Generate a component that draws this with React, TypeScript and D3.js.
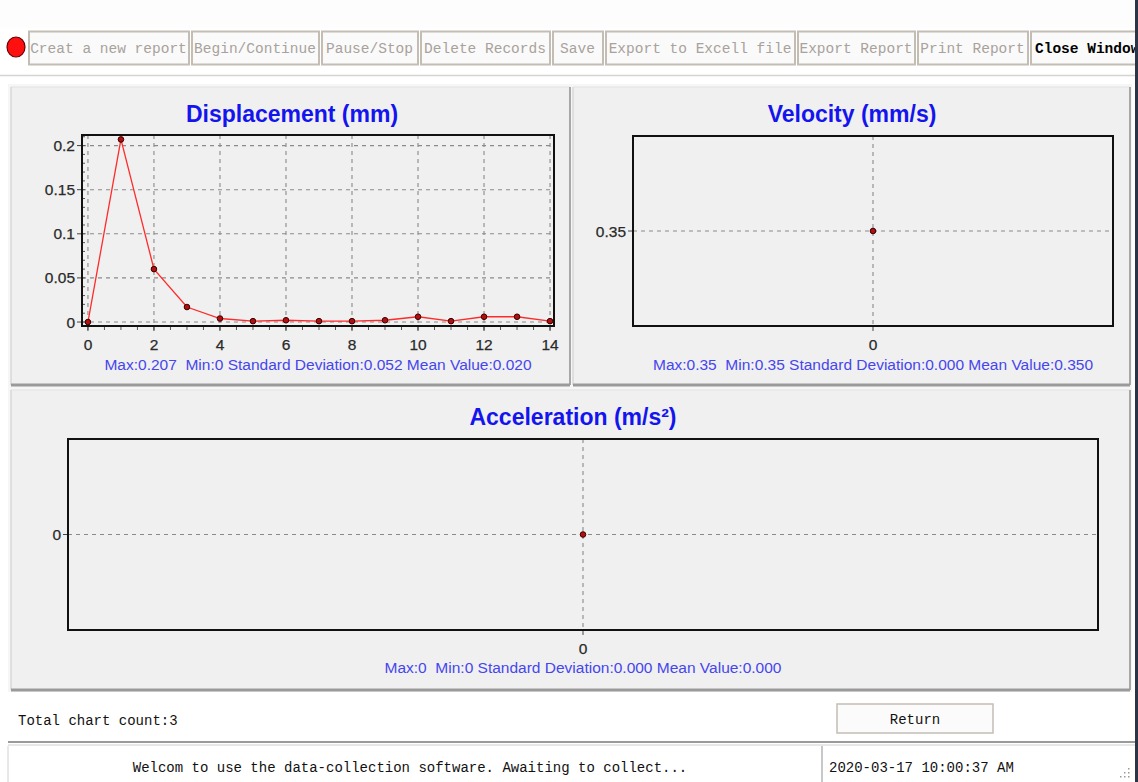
import React from "react";
import * as d3 from "d3";

// ---- data ----
const dispIndex = [0, 1, 2, 3, 4, 5, 6, 7, 8, 9, 10, 11, 12, 13, 14];
const dispValues = [0, 0.207, 0.06, 0.017, 0.004, 0.001, 0.002, 0.001, 0.001, 0.002, 0.006, 0.001, 0.006, 0.006, 0.001];
const dispXTicks = [0, 2, 4, 6, 8, 10, 12, 14];
const dispYTicks = [0, 0.05, 0.1, 0.15, 0.2];
const velIndex = [0];
const velValues = [0.35];
const accIndex = [0];
const accValues = [0];

const dispStats = "Max:0.207  Min:0 Standard Deviation:0.052 Mean Value:0.020";
const velStats = "Max:0.35  Min:0.35 Standard Deviation:0.000 Mean Value:0.350";
const accStats = "Max:0  Min:0 Standard Deviation:0.000 Mean Value:0.000";

const toolbarLabels = [
  "Creat a new report",
  "Begin/Continue",
  "Pause/Stop",
  "Delete Records",
  "Save",
  "Export to Excell file",
  "Export Report",
  "Print Report",
  "Close Window",
];

// ---- layout (chrome) ----
const buttonEdges = [28, 191, 321, 420, 552, 605, 797, 917, 1030, 1150];

const UI_FONT = "'Liberation Mono', 'DejaVu Sans Mono', monospace";
const CH_FONT = "'Liberation Sans', Arial, sans-serif";
const BLUE_TITLE = "#1414ee";
const BLUE_STATS = "#4646ee";
const GRID = "#8a8a8a";

type ChartProps = {
  title: string;
  titleX: number;
  titleY: number;
  frame: { x0: number; x1: number; y0: number; y1: number };
  xDomain: [number, number];
  yDomain: [number, number];
  xTicks: number[];
  yTicks: number[];
  yFmt: (v: number) => string;
  xs: number[];
  ys: number[];
  stats: string;
  statsY: number;
  minorX?: number[];
  minorY?: number[];
  drawLine?: boolean;
};

function Chart(p: ChartProps) {
  const { frame } = p;
  const x = d3.scaleLinear().domain(p.xDomain).range([frame.x0, frame.x1]);
  const y = d3.scaleLinear().domain(p.yDomain).range([frame.y1, frame.y0]);
  const pts: [number, number][] = p.xs.map((v, i) => [x(v), y(p.ys[i])]);
  const line = d3.line()(pts) || "";
  const cx = (frame.x0 + frame.x1) / 2;
  return (
    <g>
      <text x={p.titleX} y={p.titleY} textAnchor="middle" fontFamily={CH_FONT} fontWeight="bold" fontSize={23} fill={BLUE_TITLE}>
        {p.title}
      </text>
      {/* grid */}
      {p.xTicks.map((t) => (
        <line key={"gx" + t} x1={x(t)} x2={x(t)} y1={frame.y0} y2={frame.y1} stroke={GRID} strokeWidth={1.1} strokeDasharray="4,4" />
      ))}
      {p.yTicks.map((t) => (
        <line key={"gy" + t} x1={frame.x0} x2={frame.x1} y1={y(t)} y2={y(t)} stroke={GRID} strokeWidth={1.1} strokeDasharray="4,4" />
      ))}
      {/* minor ticks */}
      {(p.minorX || []).map((t) => (
        <line key={"mx" + t} x1={x(t)} x2={x(t)} y1={frame.y1} y2={frame.y1 + 4} stroke="#555" strokeWidth={1} />
      ))}
      {(p.minorY || []).map((t) => (
        <line key={"my" + t} x1={frame.x0} x2={frame.x0 + 3} y1={y(t)} y2={y(t)} stroke="#555" strokeWidth={1} />
      ))}
      {/* major ticks */}
      {p.xTicks.map((t) => (
        <line key={"tx" + t} x1={x(t)} x2={x(t)} y1={frame.y1} y2={frame.y1 + 5} stroke="#444" strokeWidth={1} />
      ))}
      {p.yTicks.map((t) => (
        <line key={"ty" + t} x1={frame.x0 - 5} x2={frame.x0} y1={y(t)} y2={y(t)} stroke="#444" strokeWidth={1} />
      ))}
      {/* frame */}
      <rect x={frame.x0} y={frame.y0} width={frame.x1 - frame.x0} height={frame.y1 - frame.y0} fill="none" stroke="#111" strokeWidth={2} />
      {/* tick labels */}
      {p.xTicks.map((t) => (
        <text key={"lx" + t} x={x(t)} y={frame.y1 + 24} textAnchor="middle" fontFamily={CH_FONT} fontSize={15.5} fill="#2a2a2a" stroke="#2a2a2a" strokeWidth={0.25}>
          {String(t)}
        </text>
      ))}
      {p.yTicks.map((t) => (
        <text key={"ly" + t} x={frame.x0 - 7} y={y(t) + 5.5} textAnchor="end" fontFamily={CH_FONT} fontSize={15.5} fill="#2a2a2a" stroke="#2a2a2a" strokeWidth={0.25}>
          {p.yFmt(t)}
        </text>
      ))}
      {/* series */}
      {p.drawLine && <path d={line} fill="none" stroke="#ff2a2a" strokeWidth={1.3} />}
      {pts.map((pt, i) => (
        <circle key={"pt" + i} cx={pt[0]} cy={pt[1]} r={2.8} fill="#b01010" stroke="#3a0000" strokeWidth={1} />
      ))}
      <text x={cx} y={p.statsY} textAnchor="middle" fontFamily={CH_FONT} fontSize={15.5} fill={BLUE_STATS} style={{ whiteSpace: "pre" }}>
        {p.stats}
      </text>
    </g>
  );
}

function Panel({ x0, y0, x1, y1 }: { x0: number; y0: number; x1: number; y1: number }) {
  return (
    <g>
      <rect x={x0} y={y0} width={x1 - x0} height={y1 - y0} fill="#f0f0f0" />
      <line x1={x0} x2={x1} y1={y0} y2={y0} stroke="#e2e2e2" strokeWidth={1} />
      <line x1={x0} x2={x0} y1={y0} y2={y1} stroke="#d8d8d8" strokeWidth={1.5} />
      <line x1={x1} x2={x1} y1={y0} y2={y1} stroke="#a8a8a8" strokeWidth={2} />
      <line x1={x0} x2={x1} y1={y1} y2={y1} stroke="#9a9a9a" strokeWidth={3} />
    </g>
  );
}

export default function App() {
  const minorX = dispIndex.flatMap((v) => [v, v + 0.5]).filter((v) => v <= 14);
  const minorY = d3.range(0, 0.2101, 0.01);
  return (
    <svg width={1138} height={782} style={{ position: "absolute", left: 0, top: 0, background: "#fff" }}>
      <rect x={0} y={0} width={1138} height={782} fill="#ffffff" />
      <rect x={0} y={0} width={1138} height={28} fill="#fdfdfd" />
      {/* toolbar */}
      <ellipse cx={16} cy={47} rx={9} ry={10} fill="#ff1010" stroke="#6a0000" strokeWidth={1.2} />
      {toolbarLabels.map((lab, i) => {
        const a = buttonEdges[i];
        const b = buttonEdges[i + 1] - 2;
        const last = i === toolbarLabels.length - 1;
        return (
          <g key={lab}>
            <rect x={a + 1} y={31.5} width={b - a - 1} height={33} fill="#fafafa" stroke="#c4bdb4" strokeWidth={2} />
            <text
              x={last ? a + 5 : (a + b) / 2}
              y={53}
              textAnchor={last ? "start" : "middle"}
              fontFamily={UI_FONT}
              fontSize={14.5}
              fontWeight={last ? "bold" : "normal"}
              fill={last ? "#000" : "#a8a29c"}
            >
              {lab}
            </text>
          </g>
        );
      })}
      <line x1={0} x2={1135} y1={75.5} y2={75.5} stroke="#d4d4d4" strokeWidth={1.5} />

      {/* panels */}
      <rect x={8} y={84} width={1124} height={608} fill="#f6f6f6" />
      <Panel x0={11} y0={87} x1={570} y1={385} />
      <Panel x0={573} y0={87} x1={1130} y1={385} />
      <Panel x0={11} y0={390} x1={1130} y1={690} />

      <Chart
        title="Displacement (mm)"
        titleX={292}
        titleY={122}
        frame={{ x0: 82, x1: 554, y0: 135, y1: 326 }}
        xDomain={[-0.18, 14.12]}
        yDomain={[-0.0045, 0.212]}
        xTicks={dispXTicks}
        yTicks={dispYTicks}
        yFmt={(v) => d3.format("~g")(v)}
        xs={dispIndex}
        ys={dispValues}
        stats={dispStats}
        statsY={370}
        minorX={minorX}
        minorY={minorY}
        drawLine
      />
      <Chart
        title="Velocity (mm/s)"
        titleX={852}
        titleY={122}
        frame={{ x0: 633, x1: 1113, y0: 136, y1: 326 }}
        xDomain={[-1, 1]}
        yDomain={[0.3, 0.4]}
        xTicks={velIndex}
        yTicks={velValues}
        yFmt={(v) => String(v)}
        xs={velIndex}
        ys={velValues}
        stats={velStats}
        statsY={370}
      />
      <Chart
        title="Acceleration (m/s²)"
        titleX={573}
        titleY={425}
        frame={{ x0: 68, x1: 1098, y0: 439, y1: 630 }}
        xDomain={[-1, 1]}
        yDomain={[-1, 1]}
        xTicks={accIndex}
        yTicks={accValues}
        yFmt={(v) => String(v)}
        xs={accIndex}
        ys={accValues}
        stats={accStats}
        statsY={673}
      />

      {/* footer */}
      <text x={18} y={725} fontFamily={UI_FONT} fontSize={14} fill="#111">
        Total chart count:3
      </text>
      <rect x={837} y={704} width={156} height={29} fill="#fbfbfb" stroke="#c4bdb4" strokeWidth={1.5} />
      <text x={915} y={724} textAnchor="middle" fontFamily={UI_FONT} fontSize={14} fill="#111">
        Return
      </text>
      <line x1={8} x2={1135} y1={742} y2={742} stroke="#9a9a9a" strokeWidth={2} />
      <line x1={8} x2={1135} y1={745} y2={745} stroke="#d0d0d0" strokeWidth={1} />
      <line x1={822} x2={822} y1={746} y2={782} stroke="#c8c8c8" strokeWidth={2} />
      <line x1={8} x2={8} y1={746} y2={782} stroke="#d0d0d0" strokeWidth={1} />
      <text x={410} y={772} textAnchor="middle" fontFamily={UI_FONT} fontSize={14} fill="#111">
        Welcom to use the data-collection software. Awaiting to collect...
      </text>
      <text x={829} y={772} fontFamily={UI_FONT} fontSize={14} fill="#111">
        2020-03-17 10:00:37 AM
      </text>
      {[[1128, 768], [1124, 772], [1128, 772], [1120, 776], [1124, 776], [1128, 776]].map((d, i) => (
        <rect key={"grip" + i} x={d[0]} y={d[1]} width={1.5} height={1.5} fill="#999" />
      ))}
      <rect x={1135} y={0} width={3} height={782} fill="#2c3546" />
    </svg>
  );
}
